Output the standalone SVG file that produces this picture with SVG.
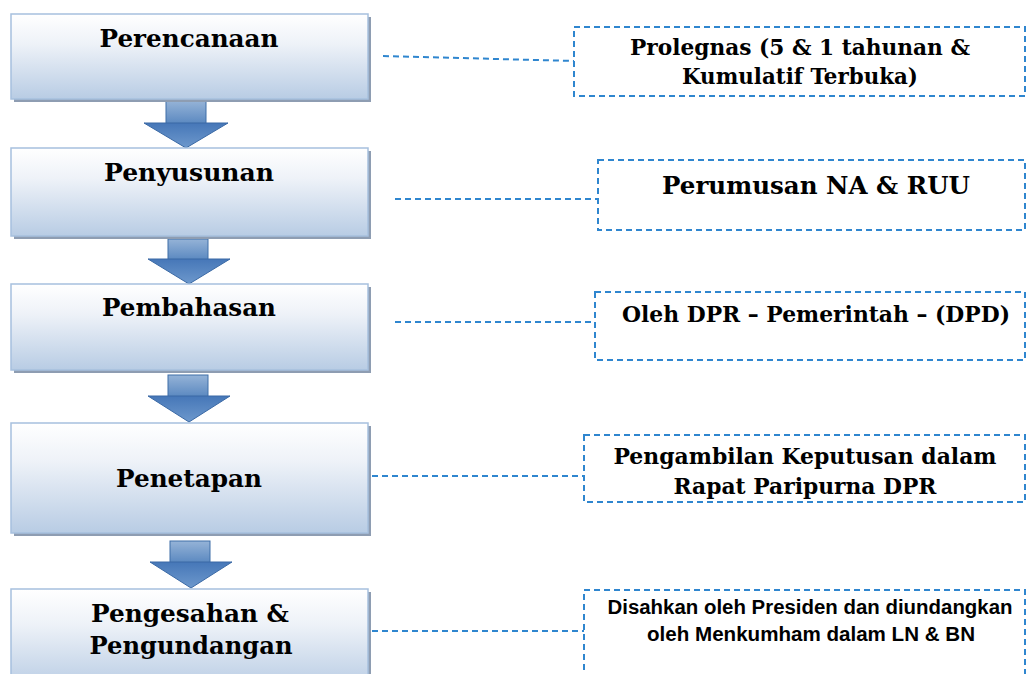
<svg xmlns="http://www.w3.org/2000/svg" width="1027" height="674" viewBox="0 0 1027 674">
<defs>
<linearGradient id="boxg" x1="0" y1="0" x2="0" y2="1">
<stop offset="0" stop-color="#ffffff"/>
<stop offset="0.35" stop-color="#eef2f8"/>
<stop offset="1" stop-color="#b8cce4"/>
</linearGradient>
<linearGradient id="shaftg" x1="0" y1="0" x2="0" y2="1">
<stop offset="0" stop-color="#95b3d7"/>
<stop offset="1" stop-color="#5a88c0"/>
</linearGradient>
<linearGradient id="headg" x1="0" y1="0" x2="0" y2="1">
<stop offset="0" stop-color="#4677b8"/>
<stop offset="1" stop-color="#6d98cc"/>
</linearGradient>
</defs>
<style>
.box{fill:url(#boxg);stroke:#a7c0de;stroke-width:1.5}
.shadow{fill:#8e9db2}
.title{font-family:"DejaVu Serif",serif;font-weight:bold;font-size:25px;fill:#000;text-anchor:middle}
.note{font-family:"DejaVu Serif",serif;font-weight:bold;font-size:21.5px;fill:#000;text-anchor:middle}
.sans{font-family:"Liberation Sans",Arial,sans-serif;font-weight:bold;font-size:20px;fill:#000;text-anchor:middle}
.dbox{fill:none;stroke:#2f86cf;stroke-width:2;stroke-dasharray:6 4}
.conn{fill:none;stroke:#2f86cf;stroke-width:2;stroke-dasharray:6 4}
.shaft{fill:url(#shaftg);stroke:#3f6ea8;stroke-width:1}
.head{fill:url(#headg);stroke:#3a69a5;stroke-width:1}
</style>
<rect width="1027" height="674" fill="#ffffff"/>

<g id="connectors">
<line class="conn" x1="383" y1="56" x2="574" y2="61"/>
<line class="conn" x1="395" y1="199" x2="598" y2="199"/>
<line class="conn" x1="395" y1="322" x2="595" y2="322"/>
<line class="conn" x1="372" y1="476" x2="584" y2="476"/>
<line class="conn" x1="372" y1="631" x2="584" y2="631"/>
<g id="arrow1"><rect class="shaft" x="166" y="101" width="40" height="23"/><polygon class="head" points="144,123 228,123 186,148"/></g>
<g id="arrow2"><rect class="shaft" x="168" y="239" width="40" height="21"/><polygon class="head" points="148,259 230,259 189,284"/></g>
<g id="arrow3"><rect class="shaft" x="168" y="375" width="40" height="22"/><polygon class="head" points="148,396 230,396 189,422"/></g>
<g id="arrow4"><rect class="shaft" x="170" y="541" width="40" height="22"/><polygon class="head" points="150,562 232,562 191,588"/></g>
</g>

<g id="perencanaan">
<rect class="shadow" x="14" y="17" width="357" height="85"/>
<rect class="box" x="11" y="14" width="357" height="85"/>
<text class="title" x="189" y="47" textLength="179" lengthAdjust="spacingAndGlyphs">Perencanaan</text>
</g>
<g id="penyusunan">
<rect class="shadow" x="14" y="151" width="357" height="88"/>
<rect class="box" x="11" y="148" width="357" height="88"/>
<text class="title" x="189" y="181" textLength="170" lengthAdjust="spacingAndGlyphs">Penyusunan</text>
</g>
<g id="pembahasan">
<rect class="shadow" x="14" y="287" width="357" height="86"/>
<rect class="box" x="11" y="284" width="357" height="86"/>
<text class="title" x="189" y="316" textLength="174" lengthAdjust="spacingAndGlyphs">Pembahasan</text>
</g>
<g id="penetapan">
<rect class="shadow" x="14" y="426" width="357" height="110"/>
<rect class="box" x="11" y="423" width="357" height="110"/>
<text class="title" x="189" y="487" textLength="146" lengthAdjust="spacingAndGlyphs">Penetapan</text>
</g>
<g id="pengesahan">
<rect class="shadow" x="14" y="592" width="357" height="100"/>
<rect class="box" x="11" y="589" width="357" height="100"/>
<text class="title" x="190" y="622" textLength="198" lengthAdjust="spacingAndGlyphs">Pengesahan &amp;</text>
<text class="title" x="191" y="654" textLength="203" lengthAdjust="spacingAndGlyphs">Pengundangan</text>
</g>

<g id="prolegnas">
<rect class="dbox" x="574" y="27" width="451" height="69"/>
<text class="note" x="800" y="55" textLength="340" lengthAdjust="spacingAndGlyphs">Prolegnas (5 &amp; 1 tahunan &amp;</text>
<text class="note" x="800" y="84" textLength="236" lengthAdjust="spacingAndGlyphs">Kumulatif Terbuka)</text>
</g>
<g id="perumusan">
<rect class="dbox" x="598" y="160" width="427" height="70"/>
<text class="note" x="816" y="194" style="font-size:24.5px" textLength="308" lengthAdjust="spacingAndGlyphs">Perumusan NA &amp; RUU</text>
</g>
<g id="oleh">
<rect class="dbox" x="595" y="292" width="430" height="68"/>
<text class="note" x="816" y="322" textLength="388" lengthAdjust="spacingAndGlyphs">Oleh DPR – Pemerintah – (DPD)</text>
</g>
<g id="pengambilan">
<rect class="dbox" x="584" y="435" width="441" height="67"/>
<text class="note" x="805" y="464" textLength="383" lengthAdjust="spacingAndGlyphs">Pengambilan Keputusan dalam</text>
<text class="note" x="805" y="494" textLength="263" lengthAdjust="spacingAndGlyphs">Rapat Paripurna DPR</text>
</g>
<g id="disahkan">
<path class="dbox" d="M584,680 V590 H1025 V680"/>
<text class="sans" x="810" y="614" textLength="405" lengthAdjust="spacingAndGlyphs">Disahkan oleh Presiden dan diundangkan</text>
<text class="sans" x="811" y="641" textLength="328" lengthAdjust="spacingAndGlyphs">oleh Menkumham dalam LN &amp; BN</text>
</g>
</svg>
